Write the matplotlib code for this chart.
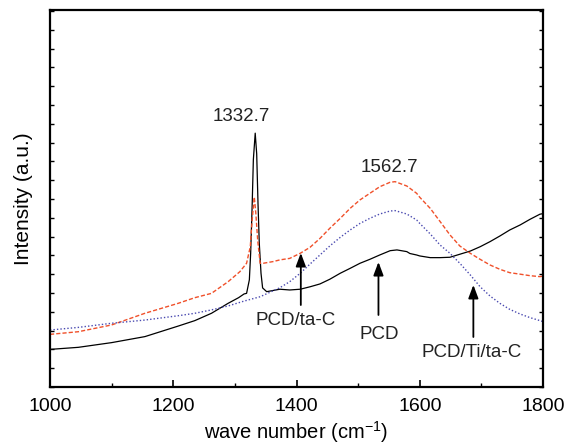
import numpy as np
import matplotlib
matplotlib.use("Agg")
import matplotlib.pyplot as plt
from matplotlib.ticker import MultipleLocator

plt.rcParams['font.family'] = ['Liberation Sans', 'DejaVu Sans']
plt.rcParams['mathtext.default'] = 'regular'

# PCD (solid black)
pcd_x = [1000, 1046, 1100, 1154, 1208, 1235, 1262, 1289, 1306, 1315, 1319,
         1323.5, 1325.6, 1328, 1330, 1333, 1335.4, 1337.5, 1339.6, 1342.4, 1345,
         1351.6, 1373, 1389, 1406, 1422, 1438, 1454, 1471, 1487, 1503, 1519,
         1535, 1552, 1563, 1579, 1584, 1595, 1600, 1617, 1633, 1649, 1665, 1682,
         1698, 1714, 1730, 1746, 1763, 1779, 1795, 1800]
pcd_y = [2.0, 2.11, 2.36, 2.68, 3.24, 3.53, 3.92, 4.45, 4.75, 4.95, 4.98,
         5.7, 7.1, 9.6, 12.1, 13.5, 12.4, 9.8, 7.65, 6.05, 5.27,
         5.07, 5.2, 5.16, 5.2, 5.33, 5.48, 5.73, 6.05, 6.31, 6.58, 6.79,
         7.02, 7.25, 7.29, 7.2, 7.1, 7.02, 6.97, 6.88, 6.88, 6.9, 7.06, 7.23,
         7.46, 7.73, 8.03, 8.35, 8.62, 8.92, 9.19, 9.22]

# PCD/ta-C (red dashed)
tac_x = [1000, 1046, 1100, 1154, 1208, 1235, 1262, 1289, 1308, 1319, 1325,
         1328, 1331.5, 1334, 1337, 1341, 1346, 1362, 1373, 1389, 1406, 1422,
         1438, 1454, 1471, 1487, 1503, 1519, 1535, 1552, 1560, 1579, 1595,
         1600, 1617, 1633, 1649, 1665, 1682, 1698, 1714, 1730, 1746, 1763,
         1779, 1795, 1800]
tac_y = [2.8, 2.94, 3.3, 3.92, 4.45, 4.75, 4.98, 5.6, 6.13, 6.58, 7.46,
         8.88, 10.1, 9.24, 7.82, 6.58, 6.58, 6.67, 6.76, 6.84, 7.11, 7.43,
         7.9, 8.44, 8.97, 9.5, 9.95, 10.3, 10.65, 10.89, 10.92, 10.69, 10.3,
         10.09, 9.5, 8.8, 8.09, 7.5, 7.11, 6.79, 6.49, 6.26, 6.08, 6.0,
         5.92, 5.87, 5.9]

# PCD/Ti/ta-C (blue dotted)
ti_x = [1000, 1046, 1100, 1154, 1208, 1235, 1262, 1289, 1315, 1341, 1373,
        1389, 1406, 1422, 1438, 1454, 1471, 1487, 1503, 1519, 1535, 1552,
        1560, 1579, 1595, 1600, 1617, 1633, 1649, 1665, 1682, 1698, 1714,
        1730, 1746, 1763, 1779, 1795, 1800]
ti_y = [3.03, 3.17, 3.39, 3.56, 3.79, 3.92, 4.1, 4.31, 4.57, 4.8, 5.28,
        5.6, 6.05, 6.54, 7.02, 7.5, 7.96, 8.35, 8.7, 8.97, 9.2, 9.36,
        9.38, 9.2, 8.88, 8.7, 8.14, 7.55, 7.11, 6.58, 5.96, 5.33, 4.84,
        4.45, 4.13, 3.88, 3.69, 3.53, 3.48]

# arrows: (label, arrow x, tip y, tail y, label x, label y)
arrows = [("PCD/ta-C", 1407, 7.13, 4.36, 1399, 3.56),
          ("PCD", 1533, 6.65, 3.83, 1534, 2.77),
          ("PCD/Ti/ta-C", 1687, 5.43, 2.66, 1684, 1.86)]
peaks = [("1332.7", 1310, 14.36), ("1562.7", 1550, 11.65)]

fig = plt.figure(figsize=(5.68, 4.45), dpi=100)
ax = fig.add_axes([50/568, 1-387/445, 493/568, 377/445])

ax.plot(pcd_x, pcd_y, color='black', lw=0.9)
ax.plot(tac_x, tac_y, color='#f0502a', lw=1.0, ls=(0, (3, 1.5)))
ax.plot(ti_x, ti_y, color='#4a4ab0', lw=1.0, ls=(0, (1, 1.5)))

for lab, ax_x, tip, tail, lx, ly in arrows:
    ax.annotate('', xy=(ax_x, tip), xytext=(ax_x, tail),
                arrowprops=dict(arrowstyle='-|>,head_length=0.8,head_width=0.3',
                                color='black', lw=1.3, shrinkA=0, shrinkB=0))
    ax.text(lx, ly, lab, ha='center', va='center', fontsize=13.5, color='#222222')

for lab, px, py in peaks:
    ax.text(px, py, lab, ha='center', va='center', fontsize=13.5, color='#222222')

ax.set_xlim(1000, 1800)
ax.set_ylim(0, 20.05)
ax.xaxis.set_major_locator(MultipleLocator(200))
ax.xaxis.set_minor_locator(MultipleLocator(100))
ax.yaxis.set_major_locator(MultipleLocator(1))
ax.tick_params(axis='x', which='major', direction='in', length=5, width=1.2,
               labelsize=14, pad=8, top=False)
ax.tick_params(axis='x', which='minor', direction='in', length=3, width=1.0, top=False)
ax.tick_params(axis='y', which='major', direction='in', length=3, width=1.0,
               left=True, right=True, labelleft=False)
for s in ax.spines.values():
    s.set_linewidth(1.6)

ax.set_xlabel('wave number (cm$^{-1}$)', fontsize=14.5, labelpad=3)
ax.set_ylabel('Intensity (a.u.)', fontsize=15, labelpad=12)

fig.savefig('out.png', dpi=100)
